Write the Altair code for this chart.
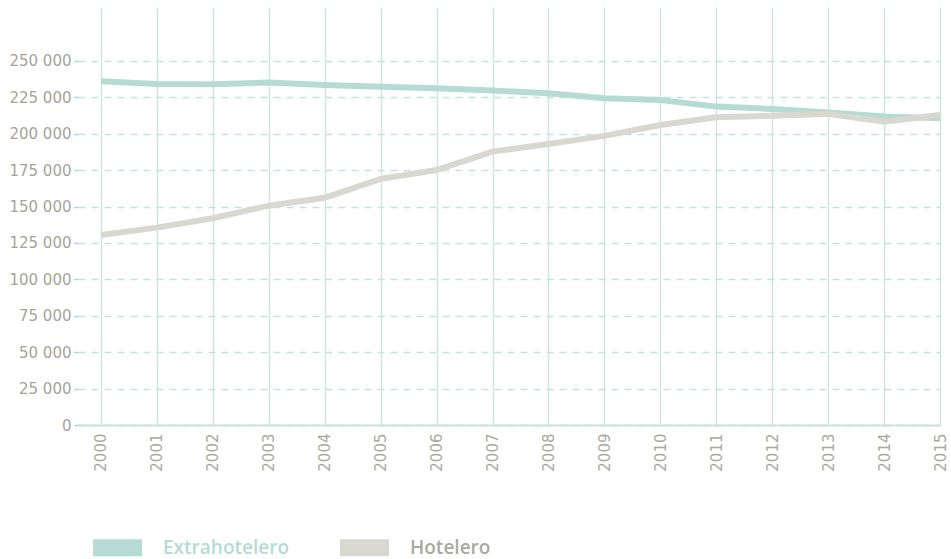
import altair as alt
import pandas as pd

years = list(range(2000, 2016))
extrahotelero = [236000, 234200, 234000, 235100, 233500, 232300, 231200, 229600,
                 227800, 224400, 223200, 218600, 217000, 214500, 211800, 210600]
hotelero = [130500, 135500, 142000, 150600, 156000, 169000, 175100, 187700,
            193000, 198500, 206000, 211300, 212400, 213600, 208300, 212900]
series = ["Extrahotelero", "Hotelero"]
colors = ["#b5dbd2", "#d8d8d0"]
y_ticks = list(range(0, 250001, 25000))

rows = []
for name, vals in zip(series, [extrahotelero, hotelero]):
    for yr, v in zip(years, vals):
        rows.append({"year": yr, "value": v, "serie": name})
df = pd.DataFrame(rows)

fill_expr = "datum.value == '%s' ? '%s' : '%s'" % (series[1], colors[1], colors[0])
label_expr = "datum.value == '%s' ? '#a9a99d' : '%s'" % (series[1], colors[0])

chart = alt.Chart(df).mark_line(strokeWidth=6).encode(
    x=alt.X("year:Q",
            scale=alt.Scale(domain=[1999.589, 2015], nice=False, zero=False),
            axis=alt.Axis(values=years, format="d", title=None, labelAngle=270,
                          labelAlign="right", labelBaseline="middle", labelPadding=8,
                          ticks=False, grid=True, gridColor="#cfe5df", gridWidth=1.5,
                          domainColor="#c9e3dc", domainWidth=2,
                          labelColor="#a9a99d", labelFont="DejaVu Sans", labelFontSize=15)),
    y=alt.Y("value:Q",
            scale=alt.Scale(domain=[0, 287000], nice=False),
            axis=alt.Axis(values=y_ticks, format=",d", title=None, domain=False,
                          tickColor="#9fd3ec", tickSize=4, tickWidth=1.5,
                          gridDash=[7, 6], gridColor="#c5e3dc", gridWidth=1.5,
                          labelPadding=3, labelColor="#a5a498",
                          labelFont="DejaVu Sans", labelFontSize=15,
                          labelExpr="replace(datum.label, ',', ' ')")),
    color=alt.Color("serie:N",
                    scale=alt.Scale(domain=series, range=colors),
                    legend=alt.Legend(title=None, orient="none", direction="horizontal",
                                      legendX=15, legendY=516,
                                      symbolType="M-1,-0.347L1,-0.347L1,0.347L-1,0.347Z",
                                      symbolSize=2401, symbolStrokeWidth=0,
                                      symbolFillColor=alt.ExprRef(fill_expr),
                                      labelColor=alt.ExprRef(label_expr),
                                      labelFont="Open Sans", labelFontWeight=600,
                                      labelFontSize=19, labelOffset=21,
                                      columnPadding=51)),
    order=alt.Order("year:Q"),
).properties(
    width=862, height=418,
    autosize=alt.AutoSizeParams(type="none"),
    padding={"left": 78, "top": 7, "right": 11, "bottom": 134},
).configure_view(stroke=None)

chart.save("out.html", embed_options={"renderer": "svg", "actions": False})
